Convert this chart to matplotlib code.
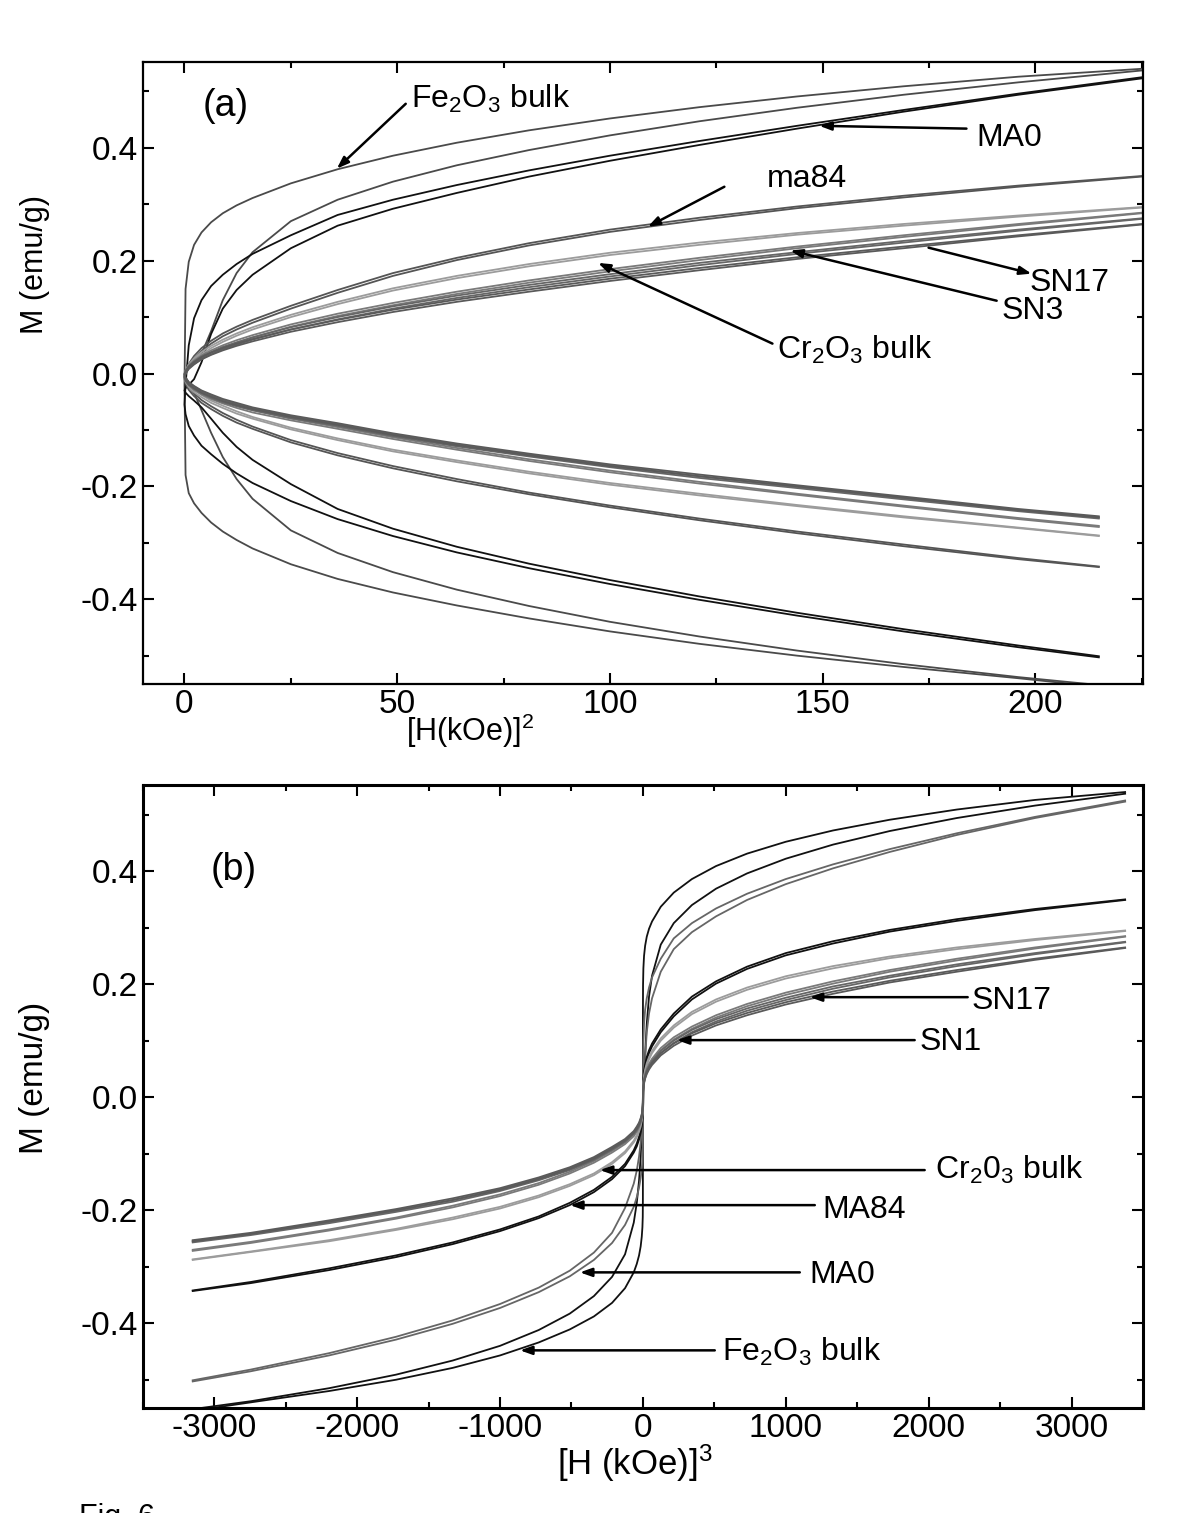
import numpy as np
import matplotlib
matplotlib.use("Agg")
import matplotlib.pyplot as plt
from matplotlib.ticker import MultipleLocator, FormatStrFormatter

plt.rcParams['font.family'] = ['Liberation Sans', 'DejaVu Sans']
plt.rcParams['mathtext.fontset'] = 'custom'
plt.rcParams['mathtext.rm'] = 'Liberation Sans'
plt.rcParams['mathtext.it'] = 'Liberation Sans:italic'
plt.rcParams['axes.unicode_minus'] = False

# field points (kOe), same grid for both branches of every loop
H_pos = [15, 14, 13, 12, 11, 10, 9, 8, 7, 6, 5, 4, 3.5, 3, 2.5, 2, 1.5, 1, 0.5, 0]
H_neg = [-0.5, -1, -1.5, -2, -2.5, -3, -3.5, -4, -5, -6, -7, -8, -9, -10, -11, -12, -13, -14, -14.66]
H = np.array(H_pos + H_neg)

# M (emu/g): descending (down) and ascending (up) branch, first H_pos then H_neg
fe_down = [0.540, 0.526, 0.509, 0.491, 0.472, 0.452, 0.431, 0.409, 0.386, 0.362,
           0.337, 0.311, 0.298, 0.284, 0.268, 0.250, 0.228, 0.198, 0.150, -0.020,
           -0.180, -0.212, -0.230, -0.247, -0.264, -0.280, -0.295, -0.310, -0.338, -0.364,
           -0.388, -0.411, -0.434, -0.457, -0.479, -0.500, -0.520, -0.540, -0.555]
fe_up = [0.537, 0.516, 0.494, 0.471, 0.447, 0.422, 0.396, 0.369, 0.340, 0.308,
         0.270, 0.215, 0.178, 0.130, 0.075, 0.035, 0.020, 0.011, 0.005, 0.000,
         -0.006, -0.016, -0.034, -0.065, -0.105, -0.148, -0.187, -0.222, -0.278, -0.318,
         -0.352, -0.383, -0.412, -0.440, -0.466, -0.491, -0.515, -0.538, -0.552]
ma0_down = [0.525, 0.496, 0.467, 0.439, 0.412, 0.386, 0.360, 0.334, 0.308, 0.281,
            0.245, 0.212, 0.194, 0.175, 0.155, 0.130, 0.098, 0.050, -0.020, -0.055,
            -0.072, -0.093, -0.110, -0.128, -0.143, -0.160, -0.177, -0.194, -0.226, -0.258,
            -0.288, -0.317, -0.345, -0.373, -0.401, -0.429, -0.457, -0.485, -0.503]
ma0_up = [0.523, 0.494, 0.464, 0.434, 0.405, 0.377, 0.349, 0.320, 0.292, 0.262,
          0.222, 0.175, 0.148, 0.115, 0.070, 0.020, -0.010, -0.020, -0.026, -0.030,
          -0.034, -0.040, -0.048, -0.060, -0.080, -0.105, -0.130, -0.153, -0.196, -0.240,
          -0.275, -0.307, -0.337, -0.366, -0.395, -0.424, -0.453, -0.482, -0.501]
ma84_down = [0.350, 0.333, 0.315, 0.296, 0.276, 0.255, 0.231, 0.205, 0.178, 0.148,
             0.120, 0.095, 0.083, 0.071, 0.058, 0.045, 0.031, 0.017, 0.005, -0.004,
             -0.013, -0.024, -0.035, -0.047, -0.058, -0.070, -0.082, -0.094, -0.118, -0.141,
             -0.164, -0.187, -0.211, -0.234, -0.257, -0.280, -0.303, -0.327, -0.342]
ma84_up = [0.349, 0.331, 0.312, 0.293, 0.272, 0.251, 0.227, 0.201, 0.173, 0.143,
           0.115, 0.090, 0.078, 0.066, 0.053, 0.040, 0.026, 0.012, 0.000, -0.009,
           -0.018, -0.029, -0.040, -0.052, -0.063, -0.075, -0.087, -0.098, -0.122, -0.145,
           -0.168, -0.191, -0.214, -0.237, -0.260, -0.283, -0.306, -0.329, -0.343]
cr_down = [0.295, 0.280, 0.265, 0.249, 0.232, 0.214, 0.194, 0.173, 0.151, 0.127,
           0.104, 0.082, 0.071, 0.060, 0.049, 0.038, 0.027, 0.016, 0.006, -0.003,
           -0.011, -0.020, -0.029, -0.038, -0.048, -0.057, -0.067, -0.077, -0.096, -0.115,
           -0.135, -0.154, -0.174, -0.194, -0.213, -0.233, -0.253, -0.273, -0.287]
cr_up = [0.294, 0.278, 0.262, 0.246, 0.228, 0.210, 0.190, 0.169, 0.147, 0.123,
         0.100, 0.078, 0.067, 0.056, 0.045, 0.034, 0.023, 0.012, 0.002, -0.007,
         -0.015, -0.024, -0.033, -0.042, -0.052, -0.061, -0.071, -0.080, -0.099, -0.118,
         -0.138, -0.157, -0.177, -0.197, -0.216, -0.235, -0.255, -0.274, -0.288]
sn1_down = [0.285, 0.265, 0.245, 0.225, 0.205, 0.185, 0.165, 0.145, 0.125, 0.106,
            0.087, 0.068, 0.059, 0.050, 0.041, 0.032, 0.023, 0.014, 0.005, -0.002,
            -0.009, -0.017, -0.025, -0.033, -0.041, -0.049, -0.057, -0.065, -0.080, -0.095,
            -0.113, -0.132, -0.152, -0.172, -0.192, -0.213, -0.234, -0.256, -0.270]
sn1_up = [0.284, 0.263, 0.242, 0.222, 0.201, 0.181, 0.161, 0.141, 0.121, 0.102,
          0.083, 0.064, 0.055, 0.046, 0.037, 0.028, 0.019, 0.010, 0.001, -0.006,
          -0.013, -0.021, -0.029, -0.037, -0.045, -0.053, -0.061, -0.069, -0.083, -0.098,
          -0.116, -0.135, -0.155, -0.175, -0.195, -0.215, -0.236, -0.258, -0.272]
sn3_down = [0.275, 0.255, 0.235, 0.215, 0.196, 0.176, 0.157, 0.138, 0.119, 0.100,
            0.082, 0.064, 0.055, 0.047, 0.038, 0.030, 0.021, 0.013, 0.005, -0.002,
            -0.009, -0.016, -0.023, -0.031, -0.039, -0.047, -0.054, -0.062, -0.076, -0.090,
            -0.108, -0.126, -0.144, -0.163, -0.182, -0.201, -0.221, -0.242, -0.255]
sn3_up = [0.274, 0.253, 0.232, 0.212, 0.192, 0.172, 0.153, 0.134, 0.115, 0.096,
          0.078, 0.060, 0.051, 0.043, 0.034, 0.026, 0.017, 0.009, 0.001, -0.006,
          -0.013, -0.020, -0.027, -0.035, -0.043, -0.051, -0.058, -0.065, -0.079, -0.093,
          -0.111, -0.129, -0.147, -0.166, -0.185, -0.203, -0.223, -0.244, -0.257]
sn17_down = [0.265, 0.245, 0.225, 0.206, 0.187, 0.168, 0.149, 0.131, 0.113, 0.095,
             0.078, 0.061, 0.053, 0.045, 0.037, 0.029, 0.020, 0.012, 0.004, -0.002,
             -0.008, -0.015, -0.022, -0.030, -0.037, -0.045, -0.052, -0.060, -0.074, -0.088,
             -0.106, -0.124, -0.142, -0.161, -0.179, -0.198, -0.218, -0.240, -0.253]
sn17_up = [0.264, 0.243, 0.222, 0.203, 0.183, 0.164, 0.145, 0.127, 0.109, 0.091,
           0.074, 0.057, 0.049, 0.041, 0.033, 0.025, 0.016, 0.008, 0.000, -0.006,
           -0.012, -0.019, -0.026, -0.034, -0.041, -0.049, -0.056, -0.063, -0.077, -0.091,
           -0.109, -0.127, -0.145, -0.164, -0.182, -0.200, -0.220, -0.242, -0.255]

samples = ['Fe2O3', 'MA0', 'MA84', 'Cr2O3', 'SN1', 'SN3', 'SN17']
loops = [(fe_down, fe_up), (ma0_down, ma0_up), (ma84_down, ma84_up), (cr_down, cr_up),
         (sn1_down, sn1_up), (sn3_down, sn3_up), (sn17_down, sn17_up)]
colors_a = ['#4a4a4a', '#111111', '#555555', '#9c9c9c', '#7a7a7a', '#666666', '#5a5a5a']
colors_b = ['#111111', '#666666', '#111111', '#9c9c9c', '#7a7a7a', '#666666', '#5a5a5a']

fig = plt.figure(figsize=(12, 15.13), dpi=100)
axa = fig.add_axes([0.119, 0.548, 0.8335, 0.411])
axb = fig.add_axes([0.119, 0.0694, 0.8335, 0.4116])

for (down, up), ca, cb in zip(loops, colors_a, colors_b):
    for m in (down, up):
        axa.plot(H**2, m, color=ca, lw=1.3)
        axb.plot(H**3, m, color=cb, lw=1.3)


def style(ax, spine_w):
    for s in ax.spines.values():
        s.set_linewidth(spine_w)
    ax.tick_params(which='both', direction='in', top=True, right=True,
                   labelsize=24, width=1.5)
    ax.tick_params(which='major', length=8)
    ax.tick_params(which='minor', length=4)
    ax.yaxis.set_major_locator(MultipleLocator(0.2))
    ax.yaxis.set_minor_locator(MultipleLocator(0.1))
    ax.yaxis.set_major_formatter(FormatStrFormatter('%.1f'))
    ax.set_ylim(-0.55, 0.552)


style(axa, 1.6)
axa.set_xlim(-9.8, 225.3)
axa.xaxis.set_major_locator(MultipleLocator(50))
axa.xaxis.set_minor_locator(MultipleLocator(25))
axa.set_ylabel('M (emu/g)', fontsize=22)
axa.yaxis.set_label_coords(-0.093, 0.674)
axa.set_xlabel('[H(kOe)]$^2$', fontsize=22)
axa.xaxis.set_label_coords(0.327, -0.045)

style(axb, 2.2)
axb.set_xlim(-3500, 3500)
axb.xaxis.set_major_locator(MultipleLocator(1000))
axb.xaxis.set_minor_locator(MultipleLocator(500))
axb.set_ylabel('M (emu/g)', fontsize=24)
axb.yaxis.set_label_coords(-0.093, 0.53)
axb.set_xlabel('[H (kOe)]$^3$', fontsize=25)
axb.xaxis.set_label_coords(0.492, -0.055)

arrow = dict(arrowstyle='-|>,head_length=0.7,head_width=0.25', lw=1.8, color='black',
             shrinkA=0, shrinkB=0)


def note(ax, label, txy, tail, tip, size=23):
    ax.text(txy[0], txy[1], label, fontsize=size, ha='left', va='center')
    ax.annotate('', xy=tip, xytext=tail, arrowprops=arrow)


axa.text(4.2, 0.474, '(a)', fontsize=27, ha='left', va='center')
note(axa, 'Fe$_2$O$_3$ bulk', (53.2, 0.487), (52, 0.478), (35.8, 0.363))
note(axa, 'MA0', (186.2, 0.418), (183.8, 0.434), (149.2, 0.439))
note(axa, 'ma84', (137, 0.345), (126.9, 0.331), (108.9, 0.260))
note(axa, 'SN17', (198.6, 0.161), (174.9, 0.223), (199.1, 0.177))
note(axa, 'SN3', (192, 0.111), (190.9, 0.129), (142.4, 0.218))
note(axa, 'Cr$_2$O$_3$ bulk', (139.3, 0.041), (138.2, 0.053), (97.2, 0.196))

axb.text(-3028, 0.402, '(b)', fontsize=27, ha='left', va='center')
note(axb, 'SN17', (2301, 0.170), (2273, 0.177), (1168, 0.177))
note(axb, 'SN1', (1937, 0.097), (1902, 0.101), (238, 0.101))
note(axb, 'Cr$_2$0$_3$ bulk', (2042, -0.129), (1972, -0.129), (-301, -0.129))
note(axb, 'MA84', (1259, -0.200), (1203, -0.191), (-510, -0.191))
note(axb, 'MA0', (1168, -0.315), (1098, -0.310), (-441, -0.310))
note(axb, 'Fe$_2$O$_3$ bulk', (552, -0.451), (503, -0.448), (-860, -0.448))

fig.text(0.066, -0.003, 'Fig. 6', fontsize=22, ha='left', va='center')

fig.savefig('out.png', dpi=100)
